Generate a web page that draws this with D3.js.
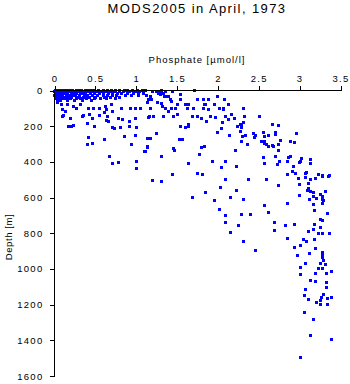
<!DOCTYPE html>
<html>
<head>
<meta charset="utf-8">
<script src="https://cdn.jsdelivr.net/npm/d3@7"></script>
<style>
  html, body { margin: 0; padding: 0; background: #fff; }
  svg { display: block; }
  text { font-family: "Liberation Sans", Arial, Helvetica, sans-serif; fill: #000; }
</style>
</head>
<body>
<svg id="chart" width="350" height="384"></svg>
<script>
// Phosphate profile, MODS2005 casts for April 1973: [phosphate µmol/l, depth m]
const surfaceObs = [
  // 0 m
  [0.02,0],[0.05,0],[0.08,0],[0.10,0],[0.13,0],[0.16,0],[0.20,0],[0.23,0],[0.27,0],[0.30,0],[0.34,0],[0.38,0],[0.42,0],[0.46,0],
  [0.50,0],[0.55,0],[0.60,0],[0.66,0],[0.70,0],[0.75,0],[0.80,0],[0.86,0],[0.90,0],[0.96,0],[1.02,0],[1.08,0],[1.12,0],
  // 10 m
  [0.01,10],[0.04,10],[0.07,10],[0.10,10],[0.12,10],[0.15,10],[0.18,10],[0.22,10],[0.25,10],[0.29,10],[0.33,10],[0.36,10],[0.40,10],
  [0.44,10],[0.48,10],[0.52,10],[0.58,10],[0.63,10],[0.68,10],[0.74,10],[0.80,10],[0.85,10],[0.92,10],[1.00,10],[1.05,10],
  // 20 m
  [0.02,20],[0.05,20],[0.09,20],[0.12,20],[0.14,20],[0.17,20],[0.21,20],[0.24,20],[0.28,20],[0.32,20],[0.35,20],[0.39,20],
  [0.45,20],[0.50,20],[0.56,20],[0.61,20],[0.67,20],[0.72,20],[0.78,20],[0.83,20],[0.90,20],[0.97,20],[1.04,20],[1.10,20],
  // 30 m
  [0.01,30],[0.04,30],[0.08,30],[0.11,30],[0.15,30],[0.19,30],[0.23,30],[0.26,30],[0.31,30],[0.37,30],[0.41,30],[0.47,30],
  [0.53,30],[0.60,30],[0.65,30],[0.71,30],[0.77,30],[0.88,30],[0.95,30],[1.03,30],[1.13,30],
  // 40 m
  [0.03,40],[0.06,40],[0.10,40],[0.14,40],[0.18,40],[0.22,40],[0.30,40],[0.36,40],[0.43,40],[0.51,40],[0.62,40],[0.69,40],[0.80,40],
  // 50 m
  [0.02,50],[0.05,50],[0.09,50],[0.13,50],[0.20,50],[0.27,50],[0.33,50],[0.40,50],[0.49,50],[0.57,50],[0.64,50],[0.75,50],
  // 60 m
  [0.04,60],[0.08,60],[0.16,60],[0.25,60],[0.35,60],[0.46,60]
];

const upperObs = [
  [0.11,112],[0.14,118],[0.11,150],[0.12,142],[0.20,158],[0.18,205],[0.22,205],[0.24,198],[0.36,142],[0.35,151],
  [0.43,136],[0.47,162],[0.41,186],[0.49,206],[0.56,142],[0.62,127],[0.64,112],[0.65,151],[0.67,179],[0.64,170],
  [0.71,123],[0.71,211],[0.74,218],[0.79,158],[0.84,164],[0.81,211],[0.86,258],[0.92,179],[0.93,202],[1.00,158],
  [1.01,209],[1.00,254],[1.15,270],[0.42,267],[0.41,304],[0.47,298],[0.62,280],[0.68,371],[0.72,410],[0.79,405],
  [0.95,304],[1.01,398],[1.01,442],[1.11,343],[1.14,321],[0.82,105],[0.94,105],[1.00,105],[1.06,105],[1.16,153],
  [0.70,80],[0.63,94],[0.56,105],[0.48,102],[0.42,105],[0.33,80],[0.28,105],[0.24,94],[0.16,80],[0.09,80],[0.04,71],
  [1.26,6],[1.29,11],[1.31,3],[1.34,17],[1.28,22],[1.30,28],[1.32,8],[1.20,6],[1.18,34],[1.19,52],[1.16,52],[1.14,71],
  [1.37,11],[1.38,34],[1.35,38],[1.40,34],[1.45,6],[1.42,52],[1.44,66],[1.55,24],[1.55,52],[1.72,2],
  [1.27,71],[1.32,77],[1.33,95],[1.37,105],[1.44,105],[1.49,105],[1.51,80],[1.40,118],[1.18,105],
  [1.61,80],[1.65,80],[1.63,105],[1.71,105],[1.75,56],[1.83,52],[1.89,52],[1.84,80],[1.86,80],[1.83,105],
  [1.96,80],[1.89,108],[2.00,38],[2.09,56],[2.13,80],[2.03,102],[2.07,102],[2.08,108],[2.32,105],[2.33,147],
  [1.17,151],[1.22,151],[1.34,146],[1.46,151],[1.51,136],[1.70,151],[1.76,146],[1.81,158],[1.87,179],[1.92,151],
  [1.98,155],[2.06,183],[2.10,151],[2.14,164],[2.17,140],[2.21,158],[2.24,207],[2.28,196],[2.30,211],[2.32,183],
  [1.55,203],[1.61,211],[1.64,196],[1.65,206],[2.05,214],[2.00,239],[2.15,254],[2.28,234],[2.31,258],[2.29,286],
  [1.18,270],[1.26,242],[1.53,280],[1.57,280],[1.14,319],[1.12,342],[1.46,329],[1.48,338],[1.31,370],[1.78,360],
  [1.84,314],[1.81,323],[2.22,338],[1.65,410],[1.94,403],[2.10,403],[2.05,435],[2.23,430],[1.76,469],[1.82,476],[1.45,476]
];

const midObs = [
  [2.51,150],[2.30,192],[2.68,192],[2.75,198],[2.44,242],[2.47,254],[2.45,267],[2.34,254],[2.56,239],[2.57,262],
  [2.62,254],[2.71,239],[2.71,248],[2.77,282],[2.97,246],[2.90,286],[2.94,295],[2.37,304],[2.54,286],[2.58,286],
  [2.60,304],[2.57,301],[2.62,314],[2.68,310],[2.69,318],[2.75,304],[2.75,338],[2.56,379],[2.58,410],[2.71,375],
  [2.74,416],[2.76,403],[2.86,399],[2.87,379],[2.90,375],[3.02,398],[3.03,385],[3.00,407],[3.14,388],[3.14,410],
  [2.93,426],[2.92,455],[2.96,469],[2.86,476],[3.08,466],[3.24,476],[3.37,478],[3.28,478],
  [1.21,508],[1.32,514],[2.10,504],[2.04,545],[2.23,564],[2.16,601],[2.32,612],[1.70,603],[1.86,573],[1.97,618],
  [2.02,668],[2.10,702],[2.10,741],[2.30,700],[2.26,758],[2.16,799],[2.32,851]
];

const deepObs = [
  [2.38,504],[2.60,500],[2.75,538],[2.99,494],[3.08,489],[3.09,461],[3.14,504],[3.20,494],[3.28,486],[3.36,486],
  [3.12,522],[3.01,532],[3.12,550],[3.10,564],[3.14,570],[3.17,575],[3.32,570],[3.26,584],[3.29,598],[3.29,612],
  [3.30,622],[3.28,634],[3.21,606],[3.17,598],[3.13,612],[3.17,640],[3.00,594],[2.57,650],[2.62,685],[2.86,634],
  [3.19,676],[3.35,690],[3.26,728],[3.28,734],[3.19,756],[3.26,771],[3.17,784],[3.12,794],[3.24,806],[3.28,802],
  [3.37,802],[3.19,836],[2.40,700],[2.70,743],[2.83,762],[2.94,756],[2.70,790],[2.86,834],[2.46,898],[3.05,836],
  [3.09,850],[3.02,874],[2.94,881],[3.13,915],[3.20,890],[3.28,911],[3.28,924],[3.28,937],[2.98,930],
  [3.08,974],[3.02,995],[3.02,1032],[3.14,1068],[3.20,1072],[3.08,1116],[3.07,1150],[3.11,1172],[3.07,1245],
  [3.17,1284],[3.14,1374],[3.02,1499],[3.39,1396],[3.30,956],[3.26,970],[3.32,980],[3.28,998],[3.24,998],
  [3.20,1026],[3.34,1026],[3.39,1019],[3.34,1077],[3.34,1105],[3.30,1144],[3.39,1161],[3.35,1170],[3.27,1163],
  [3.26,1178],[3.21,1191],[3.26,1204],[3.35,1200]
];

const xTicks = [0, 0.5, 1, 1.5, 2, 2.5, 3, 3.5];
const xTickLabels = ["0", "0.5", "1", "1.5", "2", "2.5", "3", "3.5"];
const yTicks = [0, 200, 400, 600, 800, 1000, 1200, 1400, 1600];
const yTickLabels = ["0", "200", "400", "600", "800", "1000", "1200", "1400", "1600"];

const titleText = "MODS2005 in April, 1973";
const xTitle = "Phosphate [\u00b5mol/l]";
const yTitle = "Depth [m]";

const svg = d3.select("#chart");
const plotLeft = 54, plotRight = 340, plotTop = 90, plotBottom = 375.5;

const x = d3.scaleLinear().domain([0, 3.5]).range([plotLeft, plotRight]);
const y = d3.scaleLinear().domain([0, 1600]).range([plotTop, plotBottom]);

const allObs = surfaceObs.concat(upperObs, midObs, deepObs);

// observation markers
svg.append("g")
  .attr("shape-rendering", "crispEdges")
  .selectAll("rect")
  .data(allObs)
  .join("rect")
  .attr("x", d => Math.round(x(d[0]) - 1.5))
  .attr("y", d => Math.round(y(d[1]) - 1.5))
  .attr("width", 3)
  .attr("height", 3)
  .attr("fill", "#0000ff");

// top phosphate axis
const xAxis = d3.axisTop(x)
  .tickValues(xTicks)
  .tickFormat((d, i) => xTickLabels[i])
  .tickSize(5)
  .tickSizeOuter(0)
  .tickPadding(4);

const gx = svg.append("g")
  .attr("transform", `translate(0.5,${plotTop + 0.5})`)
  .attr("shape-rendering", "crispEdges")
  .call(xAxis);

// left depth axis
const yAxis = d3.axisLeft(y)
  .tickValues(yTicks)
  .tickFormat((d, i) => yTickLabels[i])
  .tickSize(5)
  .tickSizeOuter(0)
  .tickPadding(6);

const gy = svg.append("g")
  .attr("transform", `translate(${plotLeft + 0.5},0.5)`)
  .attr("shape-rendering", "crispEdges")
  .call(yAxis);

[gx, gy].forEach(g => {
  g.select(".domain").attr("stroke", "#000").attr("stroke-width", 1);
  g.selectAll(".tick line").attr("stroke", "#000").attr("stroke-width", 1);
  g.selectAll(".tick text")
    .attr("fill", "#000")
    .style("font-family", "'Liberation Sans', Arial, sans-serif")
    .style("font-size", "9.5px")
    .style("letter-spacing", "1.3px");
});
gx.select(".domain").attr("d", `M${plotLeft},0H${plotRight}`);
gy.select(".domain").attr("d", `M0,${plotTop}V${plotBottom}`);

// titles
svg.append("text")
  .attr("x", 197)
  .attr("y", 13)
  .attr("text-anchor", "middle")
  .style("font-size", "13px")
  .style("letter-spacing", "1.4px")
  .text(titleText);

svg.append("text")
  .attr("x", 197)
  .attr("y", 63)
  .attr("text-anchor", "middle")
  .style("font-size", "9.5px")
  .style("letter-spacing", "1px")
  .text(xTitle);

svg.append("text")
  .attr("transform", "translate(12,237) rotate(-90)")
  .attr("text-anchor", "middle")
  .style("font-size", "9.5px")
  .style("letter-spacing", "0.6px")
  .text(yTitle);
</script>
</body>
</html>
